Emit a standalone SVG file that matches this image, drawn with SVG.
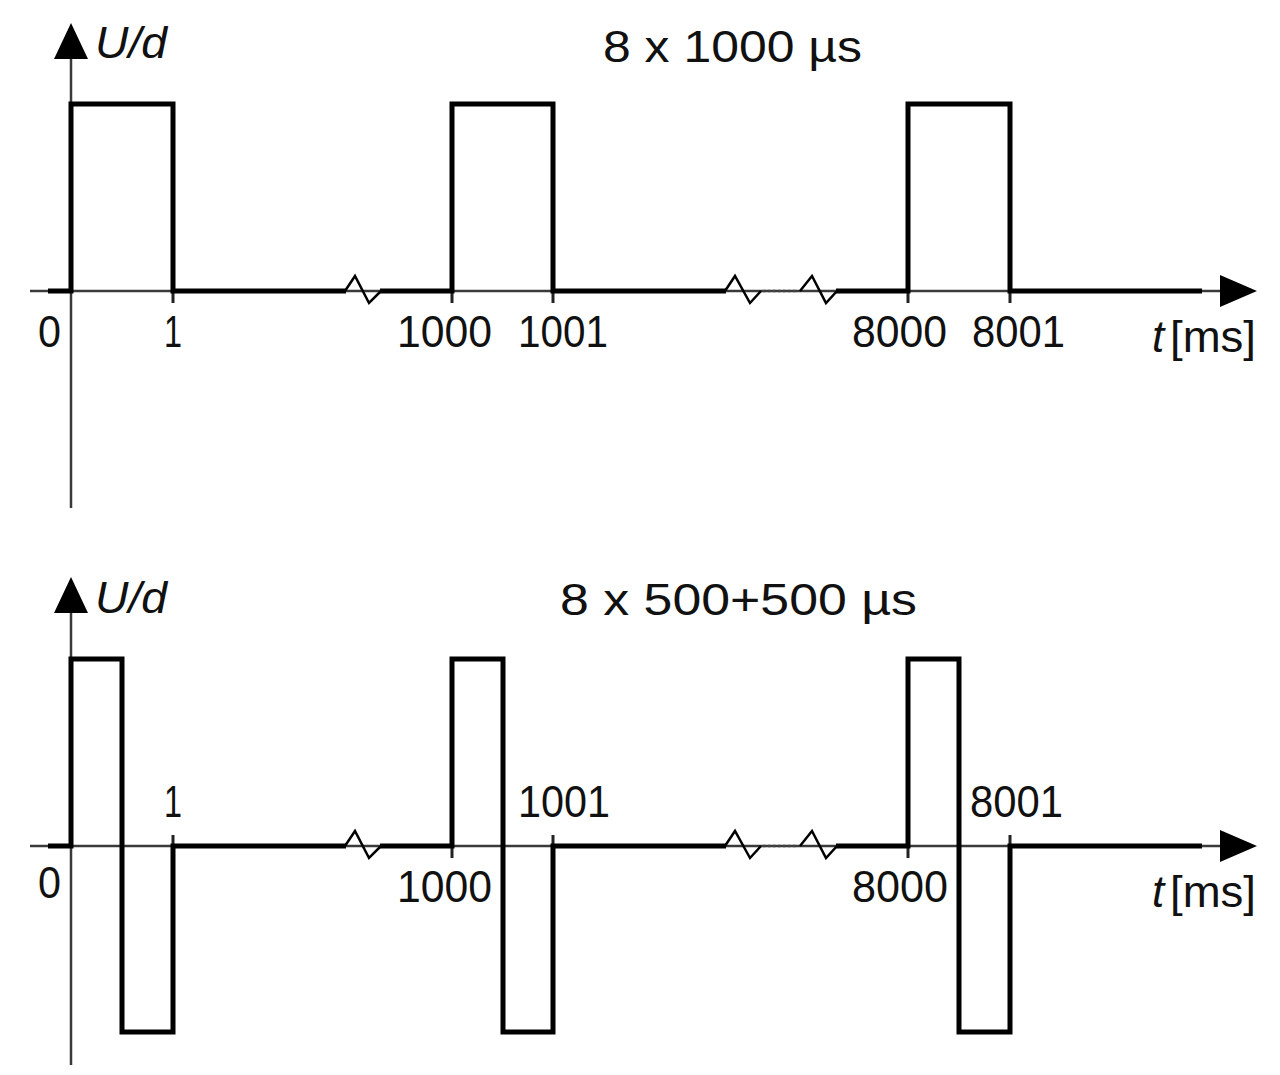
<svg xmlns="http://www.w3.org/2000/svg" width="1280" height="1075" viewBox="0 0 1280 1075">
<style>
.axis{stroke:#3a3a3a;stroke-width:2.5;fill:none}
.sig{stroke:#000;stroke-width:5;fill:none;stroke-linejoin:miter;stroke-linecap:butt}
.zig{stroke:#000;stroke-width:2.5;fill:none;stroke-linejoin:miter}
.dots{stroke:#444;stroke-width:2.5;stroke-dasharray:2.5 2.5;fill:none}
.tick{stroke:#222;stroke-width:3;fill:none}
.arr{fill:#000}
text{font-family:"Liberation Sans",Arial,sans-serif;font-size:44px;fill:#111}
.it{font-style:italic}
</style>
<rect width="1280" height="1075" fill="#fff"/>

<g id="top-plot">
  <g id="top-axes">
    <line class="axis" x1="30" y1="291" x2="1224" y2="291"/>
    <polygon class="arr" points="1257,291 1220,275 1220,307"/>
    <line class="axis" x1="71" y1="56" x2="71" y2="508"/>
    <polygon class="arr" points="71,23 54,59 88,59"/>
  </g>
  <g id="top-ticks">
    <line class="tick" x1="173" y1="291" x2="173" y2="303"/>
    <line class="tick" x1="452" y1="291" x2="452" y2="303"/>
    <line class="tick" x1="553" y1="291" x2="553" y2="303"/>
    <line class="tick" x1="908" y1="291" x2="908" y2="303"/>
    <line class="tick" x1="1010" y1="291" x2="1010" y2="303"/>
  </g>
  <g id="top-signal">
    <path class="sig" d="M48,291 H71 V104 H173 V291 H346"/>
    <path class="zig" d="M345,291 L355,276 L369,303 L381,291"/>
    <path class="sig" d="M380,291 H452 V104 H553 V291 H726"/>
    <path class="zig" d="M725,291 L735,276 L750,303 L761,291"/>
    <line class="dots" x1="763" y1="291" x2="798" y2="291"/>
    <path class="zig" d="M800,291 L812,276 L826,303 L837,291"/>
    <path class="sig" d="M836,291 H908 V104 H1010 V291 H1202"/>
  </g>
  <g id="top-labels">
    <text x="95" y="58" class="it" textLength="72" lengthAdjust="spacingAndGlyphs">U/d</text>
    <text x="603" y="62" textLength="259" lengthAdjust="spacingAndGlyphs">8 x 1000 µs</text>
    <text x="38" y="347" textLength="23" lengthAdjust="spacingAndGlyphs">0</text>
    <text x="164" y="347" textLength="18" lengthAdjust="spacingAndGlyphs">1</text>
    <text x="397" y="347" textLength="95" lengthAdjust="spacingAndGlyphs">1000</text>
    <text x="518" y="347" textLength="90" lengthAdjust="spacingAndGlyphs">1001</text>
    <text x="852" y="347" textLength="95" lengthAdjust="spacingAndGlyphs">8000</text>
    <text x="972" y="347" textLength="93" lengthAdjust="spacingAndGlyphs">8001</text>
    <text x="1152" y="352" class="it">t</text>
    <text x="1170" y="352" textLength="86" lengthAdjust="spacingAndGlyphs">[ms]</text>
  </g>
</g>

<g id="bottom-plot">
  <g id="bottom-axes">
    <line class="axis" x1="30" y1="846" x2="1224" y2="846"/>
    <polygon class="arr" points="1257,846 1220,830 1220,862"/>
    <line class="axis" x1="71" y1="610" x2="71" y2="1065"/>
    <polygon class="arr" points="71,577 54,613 88,613"/>
  </g>
  <g id="bottom-ticks">
    <line class="tick" x1="173" y1="835" x2="173" y2="846"/>
    <line class="tick" x1="452" y1="846" x2="452" y2="858"/>
    <line class="tick" x1="553" y1="835" x2="553" y2="846"/>
    <line class="tick" x1="908" y1="846" x2="908" y2="858"/>
    <line class="tick" x1="1010" y1="835" x2="1010" y2="846"/>
  </g>
  <g id="bottom-signal">
    <path class="sig" d="M48,846 H71 V659 H122 V1032 H173 V846 H346"/>
    <path class="zig" d="M345,846 L355,831 L369,858 L381,846"/>
    <path class="sig" d="M380,846 H452 V659 H503 V1032 H553 V846 H726"/>
    <path class="zig" d="M725,846 L735,831 L750,858 L761,846"/>
    <line class="dots" x1="763" y1="846" x2="798" y2="846"/>
    <path class="zig" d="M800,846 L812,831 L826,858 L837,846"/>
    <path class="sig" d="M836,846 H908 V659 H959 V1032 H1010 V846 H1202"/>
  </g>
  <g id="bottom-labels">
    <text x="95" y="613" class="it" textLength="72" lengthAdjust="spacingAndGlyphs">U/d</text>
    <text x="560" y="615" textLength="357" lengthAdjust="spacingAndGlyphs">8 x 500+500 µs</text>
    <text x="38" y="898" textLength="23" lengthAdjust="spacingAndGlyphs">0</text>
    <text x="164" y="817" textLength="18" lengthAdjust="spacingAndGlyphs">1</text>
    <text x="397" y="902" textLength="95" lengthAdjust="spacingAndGlyphs">1000</text>
    <text x="518" y="817" textLength="92" lengthAdjust="spacingAndGlyphs">1001</text>
    <text x="852" y="902" textLength="96" lengthAdjust="spacingAndGlyphs">8000</text>
    <text x="970" y="817" textLength="93" lengthAdjust="spacingAndGlyphs">8001</text>
    <text x="1152" y="907" class="it">t</text>
    <text x="1170" y="907" textLength="86" lengthAdjust="spacingAndGlyphs">[ms]</text>
  </g>
</g>
</svg>
